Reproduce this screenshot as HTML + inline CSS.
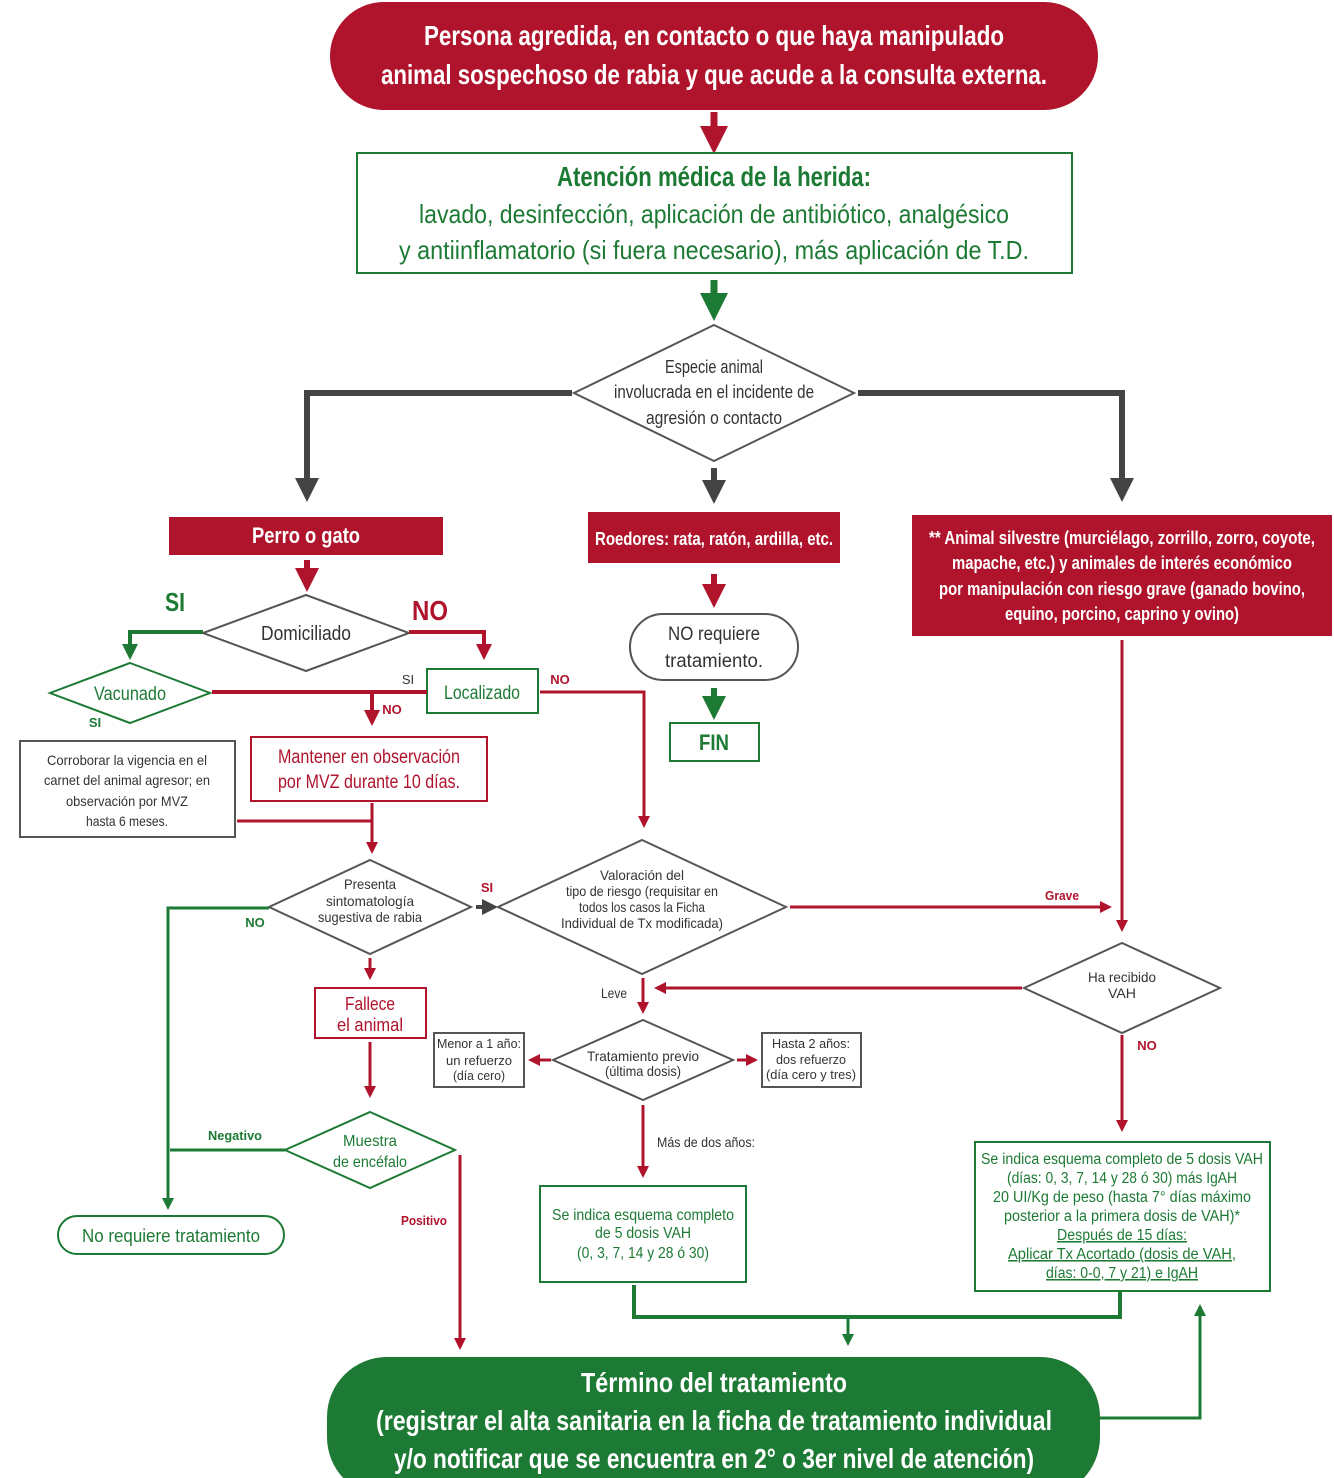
<!DOCTYPE html>
<html><head><meta charset="utf-8"><style>
html,body{margin:0;padding:0;background:#fff}
svg{display:block}
text{font-family:"Liberation Sans Narrow","Liberation Sans",sans-serif;text-anchor:middle}
.w{fill:#fff;font-weight:bold}
.r{fill:#b0142c}
.g{fill:#1d7a34}
.k{fill:#333}
</style></head><body>
<svg width="1334" height="1478" viewBox="0 0 1334 1478" xmlns="http://www.w3.org/2000/svg">
<defs>
<marker id="ar" markerWidth="4" markerHeight="4" refX="2" refY="2" orient="auto" markerUnits="strokeWidth"><path d="M0,0 L4,2 L0,4z" fill="#b0142c"/></marker>
<marker id="ag" markerWidth="4" markerHeight="4" refX="2" refY="2" orient="auto" markerUnits="strokeWidth"><path d="M0,0 L4,2 L0,4z" fill="#1d7a34"/></marker>
<marker id="ak" markerWidth="4" markerHeight="4" refX="2" refY="2" orient="auto" markerUnits="strokeWidth"><path d="M0,0 L4,2 L0,4z" fill="#444"/></marker>
</defs>

<rect x="330" y="2" width="768" height="108" rx="54" fill="#b0142c"/>
<text x="714" y="45" class="w" font-size="28" textLength="580" lengthAdjust="spacingAndGlyphs">Persona agredida, en contacto o que haya manipulado</text>
<text x="714" y="84" class="w" font-size="28" textLength="666" lengthAdjust="spacingAndGlyphs">animal sospechoso de rabia y que acude a la consulta externa.</text>
<line x1="714" y1="112" x2="714" y2="140" stroke="#b0142c" stroke-width="7" marker-end="url(#ar)"/>

<rect x="357" y="153" width="715" height="120" fill="#fff" stroke="#1d7a34" stroke-width="2"/>
<text x="714" y="186" class="g" font-size="28" font-weight="bold" textLength="314" lengthAdjust="spacingAndGlyphs">Atención médica de la herida:</text>
<text x="714" y="223" class="g" font-size="26" textLength="590" lengthAdjust="spacingAndGlyphs">lavado, desinfección, aplicación de antibiótico, analgésico</text>
<text x="714" y="259" class="g" font-size="26" textLength="630" lengthAdjust="spacingAndGlyphs">y antiinflamatorio (si fuera necesario), más aplicación de T.D.</text>
<line x1="714" y1="280" x2="714" y2="307" stroke="#1d7a34" stroke-width="7" marker-end="url(#ag)"/>

<polygon points="714,325 854,393 714,461 574,393" fill="#fff" stroke="#555" stroke-width="2"/>
<text x="714" y="373" class="k" font-size="18" textLength="98" lengthAdjust="spacingAndGlyphs">Especie animal</text>
<text x="714" y="398" class="k" font-size="18" textLength="200" lengthAdjust="spacingAndGlyphs">involucrada en el incidente de</text>
<text x="714" y="424" class="k" font-size="18" textLength="136" lengthAdjust="spacingAndGlyphs">agresión o contacto</text>
<polyline points="572,393 307,393 307,490" fill="none" stroke="#444" stroke-width="6" marker-end="url(#ak)"/>
<polyline points="858,393 1122,393 1122,490" fill="none" stroke="#444" stroke-width="6" marker-end="url(#ak)"/>
<line x1="714" y1="468" x2="714" y2="492" stroke="#444" stroke-width="6" marker-end="url(#ak)"/>

<rect x="169" y="517" width="274" height="38" fill="#b0142c"/>
<text x="306" y="543" class="w" font-size="22" textLength="108" lengthAdjust="spacingAndGlyphs">Perro o gato</text>
<rect x="588" y="512" width="252" height="51" fill="#b0142c"/>
<text x="714" y="545" class="w" font-size="18" textLength="238" lengthAdjust="spacingAndGlyphs">Roedores: rata, ratón, ardilla, etc.</text>
<rect x="912" y="515" width="420" height="121" fill="#b0142c"/>
<text x="1122" y="544" class="w" font-size="18" textLength="386" lengthAdjust="spacingAndGlyphs">** Animal silvestre (murciélago, zorrillo, zorro, coyote,</text>
<text x="1122" y="569" class="w" font-size="18" textLength="340" lengthAdjust="spacingAndGlyphs">mapache, etc.) y animales de interés económico</text>
<text x="1122" y="595" class="w" font-size="18" textLength="366" lengthAdjust="spacingAndGlyphs">por manipulación con riesgo grave (ganado bovino,</text>
<text x="1122" y="620" class="w" font-size="18" textLength="234" lengthAdjust="spacingAndGlyphs">equino, porcino, caprino y ovino)</text>

<line x1="714" y1="574" x2="714" y2="596" stroke="#b0142c" stroke-width="6" marker-end="url(#ar)"/>
<rect x="630" y="614" width="168" height="66" rx="33" fill="#fff" stroke="#555" stroke-width="2"/>
<text x="714" y="640" class="k" font-size="19" textLength="92" lengthAdjust="spacingAndGlyphs">NO requiere</text>
<text x="714" y="667" class="k" font-size="19" textLength="98" lengthAdjust="spacingAndGlyphs">tratamiento.</text>
<line x1="714" y1="688" x2="714" y2="708" stroke="#1d7a34" stroke-width="6" marker-end="url(#ag)"/>
<rect x="670" y="723" width="89" height="38" fill="#fff" stroke="#1d7a34" stroke-width="2"/>
<text x="714" y="750" class="g" font-size="22" font-weight="bold" textLength="30" lengthAdjust="spacingAndGlyphs">FIN</text>

<line x1="307" y1="560" x2="307" y2="580" stroke="#b0142c" stroke-width="6" marker-end="url(#ar)"/>
<polygon points="306,595 409,633 306,671 203,633" fill="#fff" stroke="#555" stroke-width="2"/>
<text x="306" y="640" class="k" font-size="20" textLength="90" lengthAdjust="spacingAndGlyphs">Domiciliado</text>
<text x="175" y="611" class="g" font-size="26" font-weight="bold" textLength="20" lengthAdjust="spacingAndGlyphs">SI</text>
<text x="430" y="620" class="r" font-size="28" font-weight="bold" textLength="36" lengthAdjust="spacingAndGlyphs">NO</text>
<polyline points="203,632 130,632 130,652" fill="none" stroke="#1d7a34" stroke-width="4" marker-end="url(#ag)"/>
<polyline points="409,632 484,632 484,652" fill="none" stroke="#b0142c" stroke-width="4" marker-end="url(#ar)"/>
<polygon points="130,663 210,693 130,723 50,693" fill="#fff" stroke="#1d7a34" stroke-width="2"/>
<text x="130" y="700" class="g" font-size="19" textLength="72" lengthAdjust="spacingAndGlyphs">Vacunado</text>
<text x="95" y="727" class="g" font-size="13" font-weight="bold">SI</text>
<rect x="427" y="669" width="111" height="44" fill="#fff" stroke="#1d7a34" stroke-width="2"/>
<text x="482" y="699" class="g" font-size="19" textLength="76" lengthAdjust="spacingAndGlyphs">Localizado</text>
<text x="408" y="684" class="k" font-size="13">SI</text>
<text x="560" y="684" class="r" font-size="13" font-weight="bold">NO</text>
<line x1="212" y1="692" x2="427" y2="692" stroke="#b0142c" stroke-width="4"/>
<line x1="372" y1="692" x2="372" y2="718" stroke="#b0142c" stroke-width="4" marker-end="url(#ar)"/>
<text x="392" y="714" class="r" font-size="13" font-weight="bold">NO</text>
<polyline points="540,692 644,692 644,822" fill="none" stroke="#b0142c" stroke-width="3" marker-end="url(#ar)"/>

<rect x="251" y="737" width="236" height="64" fill="#fff" stroke="#b0142c" stroke-width="2"/>
<text x="369" y="763" class="r" font-size="19" textLength="182" lengthAdjust="spacingAndGlyphs">Mantener en observación</text>
<text x="369" y="788" class="r" font-size="19" textLength="182" lengthAdjust="spacingAndGlyphs">por MVZ durante 10 días.</text>
<rect x="20" y="741" width="215" height="96" fill="#fff" stroke="#555" stroke-width="2"/>
<text x="127" y="765" class="k" font-size="14" textLength="160" lengthAdjust="spacingAndGlyphs">Corroborar la vigencia en el</text>
<text x="127" y="785" class="k" font-size="14" textLength="166" lengthAdjust="spacingAndGlyphs">carnet del animal agresor; en</text>
<text x="127" y="806" class="k" font-size="14" textLength="122" lengthAdjust="spacingAndGlyphs">observación por MVZ</text>
<text x="127" y="826" class="k" font-size="14" textLength="82" lengthAdjust="spacingAndGlyphs">hasta 6 meses.</text>
<line x1="237" y1="821" x2="372" y2="821" stroke="#b0142c" stroke-width="3"/>
<line x1="372" y1="803" x2="372" y2="848" stroke="#b0142c" stroke-width="3" marker-end="url(#ar)"/>

<polygon points="370,860 471,907 370,954 269,907" fill="#fff" stroke="#555" stroke-width="2"/>
<text x="370" y="889" class="k" font-size="14" textLength="52" lengthAdjust="spacingAndGlyphs">Presenta</text>
<text x="370" y="906" class="k" font-size="14" textLength="88" lengthAdjust="spacingAndGlyphs">sintomatología</text>
<text x="370" y="922" class="k" font-size="14" textLength="104" lengthAdjust="spacingAndGlyphs">sugestiva de rabia</text>
<text x="487" y="892" class="r" font-size="13" font-weight="bold">SI</text>
<line x1="476" y1="907" x2="490" y2="907" stroke="#444" stroke-width="4" marker-end="url(#ak)"/>
<text x="255" y="927" class="g" font-size="13" font-weight="bold">NO</text>
<polyline points="269,908 168,908 168,1204" fill="none" stroke="#1d7a34" stroke-width="3" marker-end="url(#ag)"/>
<line x1="370" y1="958" x2="370" y2="974" stroke="#b0142c" stroke-width="3" marker-end="url(#ar)"/>
<rect x="315" y="988" width="111" height="50" fill="#fff" stroke="#b0142c" stroke-width="2"/>
<text x="370" y="1010" class="r" font-size="18" textLength="50" lengthAdjust="spacingAndGlyphs">Fallece</text>
<text x="370" y="1031" class="r" font-size="18" textLength="66" lengthAdjust="spacingAndGlyphs">el animal</text>
<line x1="370" y1="1042" x2="370" y2="1092" stroke="#b0142c" stroke-width="3" marker-end="url(#ar)"/>
<polygon points="370,1112 455,1150 370,1188 285,1150" fill="#fff" stroke="#1d7a34" stroke-width="2"/>
<text x="370" y="1146" class="g" font-size="16" textLength="54" lengthAdjust="spacingAndGlyphs">Muestra</text>
<text x="370" y="1167" class="g" font-size="16" textLength="74" lengthAdjust="spacingAndGlyphs">de encéfalo</text>
<text x="235" y="1140" class="g" font-size="13" font-weight="bold" textLength="54" lengthAdjust="spacingAndGlyphs">Negativo</text>
<line x1="285" y1="1150" x2="170" y2="1150" stroke="#1d7a34" stroke-width="3"/>
<line x1="460" y1="1155" x2="460" y2="1344" stroke="#b0142c" stroke-width="3" marker-end="url(#ar)"/>
<text x="424" y="1225" class="r" font-size="13" font-weight="bold" textLength="46" lengthAdjust="spacingAndGlyphs">Positivo</text>
<rect x="58" y="1216" width="226" height="38" rx="19" fill="#fff" stroke="#1d7a34" stroke-width="2"/>
<text x="171" y="1242" class="g" font-size="18" textLength="178" lengthAdjust="spacingAndGlyphs">No requiere tratamiento</text>

<polygon points="642,840 786,907 642,974 498,907" fill="#fff" stroke="#555" stroke-width="2"/>
<text x="642" y="880" class="k" font-size="14" textLength="84" lengthAdjust="spacingAndGlyphs">Valoración del</text>
<text x="642" y="896" class="k" font-size="14" textLength="152" lengthAdjust="spacingAndGlyphs">tipo de riesgo (requisitar en</text>
<text x="642" y="912" class="k" font-size="14" textLength="126" lengthAdjust="spacingAndGlyphs">todos los casos la Ficha</text>
<text x="642" y="928" class="k" font-size="14" textLength="162" lengthAdjust="spacingAndGlyphs">Individual de Tx modificada)</text>
<line x1="790" y1="907" x2="1106" y2="907" stroke="#b0142c" stroke-width="3" marker-end="url(#ar)"/>
<text x="1062" y="900" class="r" font-size="13" font-weight="bold" textLength="34" lengthAdjust="spacingAndGlyphs">Grave</text>
<line x1="1122" y1="640" x2="1122" y2="926" stroke="#b0142c" stroke-width="3" marker-end="url(#ar)"/>
<polygon points="1122,943 1220,988 1122,1033 1024,988" fill="#fff" stroke="#555" stroke-width="2"/>
<text x="1122" y="982" class="k" font-size="14" textLength="68" lengthAdjust="spacingAndGlyphs">Ha recibido</text>
<text x="1122" y="998" class="k" font-size="14" textLength="28" lengthAdjust="spacingAndGlyphs">VAH</text>
<line x1="1022" y1="988" x2="660" y2="988" stroke="#b0142c" stroke-width="3" marker-end="url(#ar)"/>
<text x="614" y="998" class="k" font-size="14" textLength="26" lengthAdjust="spacingAndGlyphs">Leve</text>
<line x1="643" y1="978" x2="643" y2="1008" stroke="#b0142c" stroke-width="3" marker-end="url(#ar)"/>
<polygon points="643,1020 733,1060 643,1100 553,1060" fill="#fff" stroke="#555" stroke-width="2"/>
<text x="643" y="1061" class="k" font-size="14" textLength="112" lengthAdjust="spacingAndGlyphs">Tratamiento previo</text>
<text x="643" y="1076" class="k" font-size="14" textLength="76" lengthAdjust="spacingAndGlyphs">(última dosis)</text>
<rect x="434" y="1033" width="90" height="54" fill="#fff" stroke="#555" stroke-width="2"/>
<text x="479" y="1048" class="k" font-size="13" textLength="84" lengthAdjust="spacingAndGlyphs">Menor a 1 año:</text>
<text x="479" y="1065" class="k" font-size="13" textLength="66" lengthAdjust="spacingAndGlyphs">un refuerzo</text>
<text x="479" y="1080" class="k" font-size="13" textLength="52" lengthAdjust="spacingAndGlyphs">(día cero)</text>
<line x1="551" y1="1060" x2="534" y2="1060" stroke="#b0142c" stroke-width="3" marker-end="url(#ar)"/>
<rect x="762" y="1033" width="99" height="54" fill="#fff" stroke="#555" stroke-width="2"/>
<text x="811" y="1048" class="k" font-size="13" textLength="78" lengthAdjust="spacingAndGlyphs">Hasta 2 años:</text>
<text x="811" y="1064" class="k" font-size="13" textLength="70" lengthAdjust="spacingAndGlyphs">dos refuerzo</text>
<text x="811" y="1079" class="k" font-size="13" textLength="90" lengthAdjust="spacingAndGlyphs">(día cero y tres)</text>
<line x1="737" y1="1060" x2="752" y2="1060" stroke="#b0142c" stroke-width="3" marker-end="url(#ar)"/>
<line x1="643" y1="1105" x2="643" y2="1172" stroke="#b0142c" stroke-width="3" marker-end="url(#ar)"/>
<text x="706" y="1147" class="k" font-size="14" textLength="98" lengthAdjust="spacingAndGlyphs">Más de dos años:</text>
<rect x="540" y="1186" width="206" height="96" fill="#fff" stroke="#1d7a34" stroke-width="2"/>
<text x="643" y="1220" class="g" font-size="16" textLength="182" lengthAdjust="spacingAndGlyphs">Se indica esquema completo</text>
<text x="643" y="1238" class="g" font-size="16" textLength="96" lengthAdjust="spacingAndGlyphs">de 5 dosis VAH</text>
<text x="643" y="1258" class="g" font-size="16" textLength="132" lengthAdjust="spacingAndGlyphs">(0, 3, 7, 14 y 28 ó 30)</text>

<text x="1147" y="1050" class="r" font-size="13" font-weight="bold">NO</text>
<line x1="1122" y1="1035" x2="1122" y2="1126" stroke="#b0142c" stroke-width="3" marker-end="url(#ar)"/>
<rect x="975" y="1142" width="295" height="149" fill="#fff" stroke="#1d7a34" stroke-width="2"/>
<g class="g" font-size="15.5">
<text x="1122" y="1164" textLength="282" lengthAdjust="spacingAndGlyphs">Se indica esquema completo de 5 dosis VAH</text>
<text x="1122" y="1183" textLength="230" lengthAdjust="spacingAndGlyphs">(días: 0, 3, 7, 14 y 28 ó 30) más IgAH</text>
<text x="1122" y="1202" textLength="258" lengthAdjust="spacingAndGlyphs">20 UI/Kg de peso (hasta 7° días máximo</text>
<text x="1122" y="1221" textLength="236" lengthAdjust="spacingAndGlyphs">posterior a la primera dosis de VAH)*</text>
<text x="1122" y="1240" text-decoration="underline" textLength="130" lengthAdjust="spacingAndGlyphs">Después de 15 días:</text>
<text x="1122" y="1259" text-decoration="underline" textLength="228" lengthAdjust="spacingAndGlyphs">Aplicar Tx Acortado (dosis de VAH,</text>
<text x="1122" y="1278" text-decoration="underline" textLength="152" lengthAdjust="spacingAndGlyphs">días: 0-0, 7 y 21) e IgAH</text>
</g>
<polyline points="634,1285 634,1317 1120,1317 1120,1292" fill="none" stroke="#1d7a34" stroke-width="4"/>
<line x1="848" y1="1317" x2="848" y2="1340" stroke="#1d7a34" stroke-width="3" marker-end="url(#ag)"/>

<rect x="327" y="1357" width="773" height="140" rx="60" fill="#1d7a34"/>
<text x="714" y="1392" class="w" font-size="28" textLength="266" lengthAdjust="spacingAndGlyphs">Término del tratamiento</text>
<text x="714" y="1430" class="w" font-size="28" textLength="676" lengthAdjust="spacingAndGlyphs">(registrar el alta sanitaria en la ficha de tratamiento individual</text>
<text x="714" y="1468" class="w" font-size="28" textLength="640" lengthAdjust="spacingAndGlyphs">y/o notificar que se encuentra en 2° o 3er nivel de atención)</text>
<polyline points="1100,1418 1200,1418 1200,1310" fill="none" stroke="#1d7a34" stroke-width="3" marker-end="url(#ag)"/>
</svg>
</body></html>
